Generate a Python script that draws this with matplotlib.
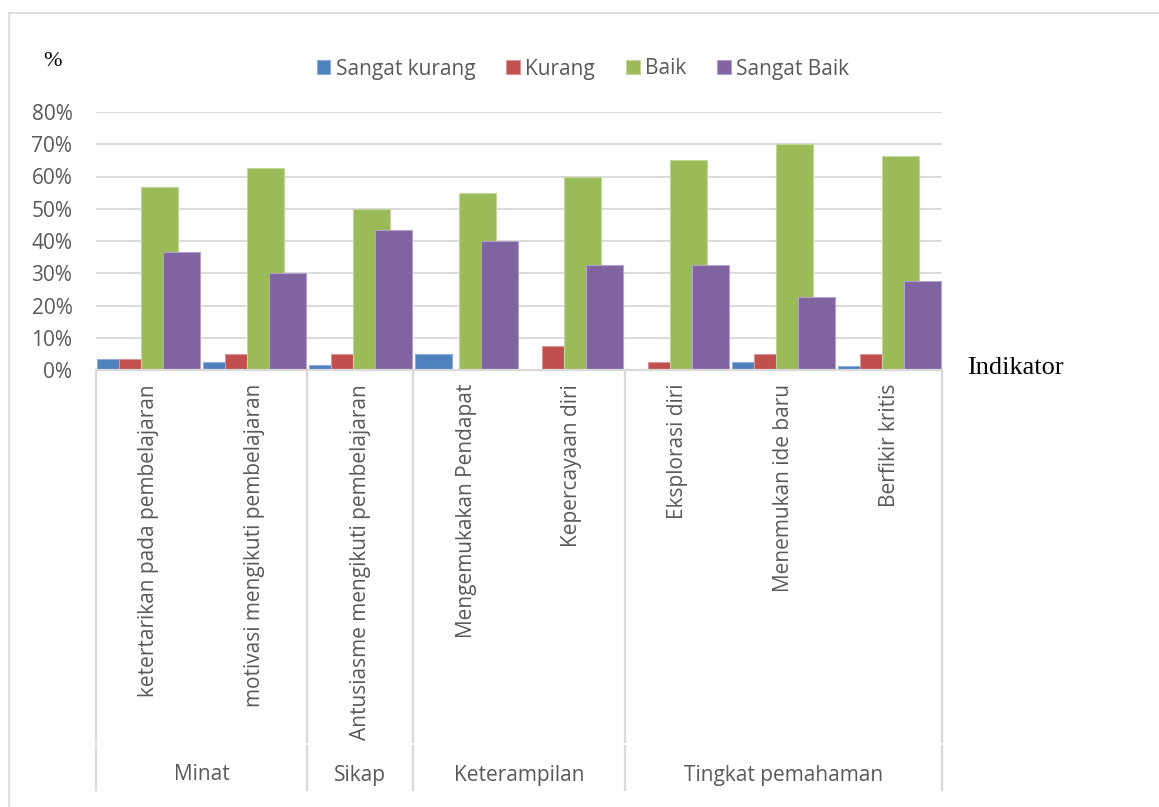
import matplotlib
matplotlib.use("agg")
import matplotlib.pyplot as plt
import matplotlib.transforms as mtransforms
from matplotlib.patches import Rectangle
import numpy as np

indikator = [
    "ketertarikan pada pembelajaran",
    "motivasi mengikuti pembelajaran",
    "Antusiasme mengikuti pembelajaran",
    "Mengemukakan Pendapat",
    "Kepercayaan diri",
    "Eksplorasi diri",
    "Menemukan ide baru",
    "Berfikir kritis",
]
aspek = ["Minat", "Sikap", "Keterampilan", "Tingkat pemahaman"]
aspek_size = [2, 1, 2, 3]

kategori = ["Sangat kurang", "Kurang", "Baik", "Sangat Baik"]
sangat_kurang = [3.3, 2.5, 1.7, 5.0, 0.0, 0.0, 2.5, 1.25]
kurang = [3.3, 5.0, 5.0, 0.0, 7.5, 2.5, 5.0, 5.0]
baik = [56.7, 62.5, 50.0, 55.0, 60.0, 65.0, 70.0, 66.25]
sangat_baik = [36.7, 30.0, 43.3, 40.0, 32.5, 32.5, 22.5, 27.5]

Colors = ["#4F81BD", "#C0504D", "#9BBB59", "#8064A2"]
Edges = ["#8EAADB", "#D99694", "#C3D69B", "#B3A2C7"]
GRID = "#D9D9D9"
TXT = "#595959"
FONT = "Open Sans"

fig = plt.figure(figsize=(11.59, 8.07), dpi=100)
ax = fig.add_axes([96 / 1159, 1 - 370 / 807, 846 / 1159, 258 / 807])

# outer chart frame
fig.patches.append(
    Rectangle((9 / 1159, -0.02), 1.1, 1 - 13 / 807 + 0.02,
              transform=fig.transFigure, facecolor="none",
              edgecolor=GRID, linewidth=1.2)
)

x = np.arange(len(indikator))
width = 0.35
step = 0.208
series = [sangat_kurang, kurang, baik, sangat_baik]
for i, vals in enumerate(series):
    ax.bar(x + (i - 1.5) * step, np.array(vals) / 100, width,
           color=Colors[i], edgecolor=Edges[i], linewidth=0.8,
           label=kategori[i], zorder=2 + i)

ax.set_xlim(-0.5, len(indikator) - 0.5)
ax.set_ylim(0, 0.8)
ax.set_yticks(np.arange(0, 0.81, 0.1))
ax.set_yticklabels(["%d%%" % round(v * 100) for v in np.arange(0, 0.81, 0.1)],
                   family=FONT, fontsize=15, color=TXT)
ax.tick_params(axis="y", length=0, pad=17)
ax.grid(axis="y", color=GRID, linewidth=1.3, zorder=0)
ax.set_axisbelow(True)
for s in ["top", "right", "left"]:
    ax.spines[s].set_visible(False)
ax.spines["bottom"].set_color(GRID)
ax.spines["bottom"].set_linewidth(1.6)
ax.spines["bottom"].set_zorder(10)

ax.set_xticks(x)
ax.set_xticklabels(indikator, rotation=90, family=FONT,
                   fontsize=15, color=TXT)
ax.tick_params(axis="x", length=0, pad=10)

# group separators and group names under the category labels
trans = mtransforms.blended_transform_factory(ax.transData, ax.transAxes)
h = 258.0
edges = np.concatenate([[0], np.cumsum(aspek_size)]) - 0.5
for e in edges:
    ax.plot([e, e], [0, -(742 - 370) / h], color=GRID, linewidth=1.6,
            transform=trans, clip_on=False)
    ax.plot([e, e], [-(746 - 370) / h, -(790 - 370) / h], color=GRID,
            linewidth=1.6, transform=trans, clip_on=False)
for k, name in enumerate(aspek):
    ax.text((edges[k] + edges[k + 1]) / 2, -(775 - 370) / h, name,
            transform=trans, ha="center", va="center",
            family=FONT, fontsize=15, color=TXT)

ax.legend(loc="center", bbox_to_anchor=(583 / 1159, 1 - 69 / 807),
          bbox_transform=fig.transFigure, ncol=4, frameon=False,
          handlelength=0.65, handleheight=0.65, handletextpad=0.25,
          columnspacing=1.5, prop={"family": FONT, "size": 15},
          labelcolor=TXT)

fig.text(53 / 1159, 1 - 62 / 807, "%", family="Liberation Serif",
         fontsize=16, ha="center", va="center")
fig.text(967 / 1159, 1 - 368 / 807, "Indikator", family="Liberation Serif",
         fontsize=19, ha="left", va="center")

fig.savefig("out.png", dpi=100)
